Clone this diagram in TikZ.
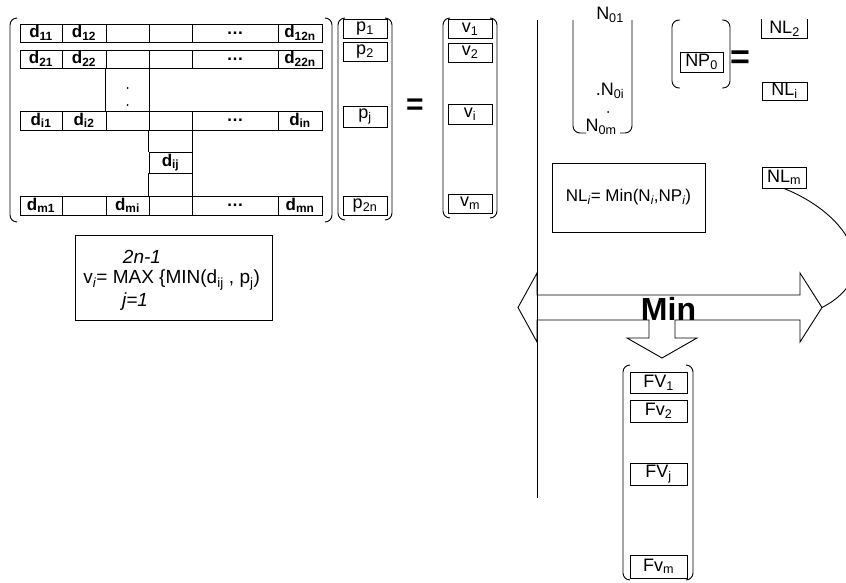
\documentclass[tikz,border=0pt]{standalone}
\usepackage{fontspec}
\setmainfont{Liberation Sans}
\usetikzlibrary{positioning}
\newcommand{\tamcaja}{\fontsize{18}{20}\selectfont}
\newcommand{\tamform}{\fontsize{19}{21}\selectfont}

\begin{document}
\begin{tikzpicture}[x=1pt, y=-1pt, line width=0.9pt,
  every node/.style={inner sep=0pt, font=\tamcaja},
  cell/.style={draw, minimum height=18pt, font=\fontsize{17}{19}\selectfont\bfseries},
  vbox/.style={draw, minimum width=44pt, minimum height=19pt},
  fvbox/.style={draw, minimum width=57pt, minimum height=21pt},
  nlbox/.style={draw, minimum width=45pt, minimum height=19pt},
  paren/.style={rounded corners=7pt},
  igual/.style={font=\fontsize{30}{30}\selectfont\bfseries}
]
\useasboundingbox (0,0) rectangle (846,583);
\clip (0,0) rectangle (846,583);

% -------- Matriz D (izquierda) --------
\foreach \k/\xc/\w/\lbl in {1/41/42/{d\textsubscript{11}}, 2/84/44/{d\textsubscript{12}},
    3/127.5/43/{}, 4/170.5/43/{}, 5/235/86/{\dots}, 6/300/44/{d\textsubscript{12n}}}
  \node[cell, minimum width=\w] (a1\k) at (\xc,33) {\lbl};
\foreach \k/\xc/\w/\lbl in {1/41/42/{d\textsubscript{21}}, 2/84/44/{d\textsubscript{22}},
    3/127.5/43/{}, 4/170.5/43/{}, 5/235/86/{\dots}, 6/300/44/{d\textsubscript{22n}}}
  \node[cell, minimum width=\w] (a2\k) at (\xc,59) {\lbl};
\foreach \k/\xc/\w/\lbl in {1/41/42/{d\textsubscript{i1}}, 2/84/44/{d\textsubscript{i2}},
    3/127.5/43/{}, 4/170.5/43/{}, 5/235/86/{\dots}, 6/300/44/{d\textsubscript{in}}}
  \node[cell, minimum width=\w, minimum height=19pt] (ai\k) at (\xc,120.5) {\lbl};
\foreach \k/\xc/\w/\lbl in {1/41/42/{d\textsubscript{m1}}, 2/84/44/{}, 3/127.5/43/{d\textsubscript{mi}},
    4/170.5/43/{}, 5/235/86/{\dots}, 6/300/44/{d\textsubscript{mn}}}
  \node[cell, minimum width=\w, minimum height=19pt] (am\k) at (\xc,205.5) {\lbl};
\node[cell, minimum width=43pt, minimum height=21pt] (dij) at (170.5,162.5) {d\textsubscript{ij}};

% columnas entre filas
\draw (a23.south west) -- (ai3.north west);
\draw (a23.south east) -- (ai3.north east);
\draw (ai4.south west) -- (dij.north west);
\draw (ai4.south east) -- (dij.north east);
\draw (dij.south west) -- (am4.north west);
\draw (dij.south east) -- (am4.north east);
\fill (127.5,88) circle (1pt);
\fill (127.5,105) circle (1pt);

% parentesis de D
\draw[paren] (17,18) -- (10,18) -- (10,222) -- (17,222);
\draw[paren] (325,18) -- (332,18) -- (332,222) -- (325,222);

% -------- Vector p --------
\draw[paren] (345,18) -- (338,18) -- (338,220) -- (345,220);
\draw[paren] (385,18) -- (392,18) -- (392,220) -- (385,220);
\node[vbox] (p1) at (365,29) {p\textsubscript{1}};
\node[vbox] (p2) at (365,51.5) {p\textsubscript{2}};
\node[vbox, minimum height=21pt] (pj) at (365,116.5) {p\textsubscript{j}};
\node[vbox] (p2n) at (365,205.5) {p\textsubscript{2n}};

\node[igual] (eq1) at (415,107) {=};

% -------- Vector v --------
\draw[paren] (450,18) -- (443,18) -- (443,218) -- (450,218);
\draw[paren] (490,18) -- (497,18) -- (497,218) -- (490,218);
\node[vbox] (v1) at (470,29) {v\textsubscript{1}};
\node[vbox] (v2) at (470,52.5) {v\textsubscript{2}};
\node[vbox, minimum height=20pt] (vi) at (470,114) {v\textsubscript{i}};
\node[vbox] (vm) at (470,203.5) {v\textsubscript{m}};

% formula de v
\draw (75,235) rectangle (272,320);
\node[font=\tamform\itshape] (vsup) at (142,257) {2n-1};
\node[font=\tamform, anchor=west] (vform) at (83,280)
  {v\textsubscript{\itshape i}= MAX \{MIN(d\textsubscript{ij} , p\textsubscript{j})};
\node[font=\tamform\itshape] (vinf) at (135,302) {j=1};

% -------- Separador --------
\draw (537,20) -- (537,498);

% -------- Vector N0 --------
\draw[paren] (573,20) -- (573,133) -- (586,133);
\draw[paren] (632,20) -- (632,133) -- (620,133);
\node (n01) at (610,15) {N\textsubscript{01}};
\node (n0i) at (610,91) {.N\textsubscript{0i}};
\fill (608,112) circle (1pt);
\node (n0m) at (601,127) {N\textsubscript{0m}};

% -------- NP0 y NL --------
\draw[paren] (680,20) -- (672,20) -- (672,88) -- (680,88);
\draw[paren] (722,20) -- (730,20) -- (730,88) -- (722,88);
\node[draw, minimum width=43pt, minimum height=20pt] (np0) at (701.5,62) {NP\textsubscript{0}};
\node[igual, font=\fontsize{34}{34}\selectfont\bfseries] (eq2) at (740,60) {=};

\node[minimum width=45pt, minimum height=19pt] (nl2) at (784.5,29) {NL\textsubscript{2}};
\draw (nl2.north west) -- (nl2.south west) -- (nl2.south east) -- (nl2.north east);
\node[nlbox, minimum height=18pt] (nli) at (784.5,91) {NL\textsubscript{i}};
\node[nlbox, minimum width=44pt, minimum height=21pt] (nlm) at (784,177.5) {NL\textsubscript{m}};

\node[draw, minimum width=153pt, minimum height=69pt, font=\fontsize{17}{19}\selectfont] (nlf) at (628.5,197.5)
  {NL\textsubscript{\itshape i}= Min(N\textsubscript{\itshape i},NP\textsubscript{\itshape i})};

% -------- Flecha doble y Min --------
\coordinate (ltip) at (518,307.5);
\coordinate (rtip) at (822,307.5);
\coordinate (dtip) at (662,358);
\draw (537,295) -- (800,295) -- (800,273) -- (rtip) -- (800,342) -- (800,320)
  -- (675,320) -- (675,338) -- (697,338) -- (dtip) -- (627,338) -- (649,338)
  -- (649,320) -- (537,320) -- (537,342) -- (ltip) -- (537,273) -- cycle;
\node[font=\fontsize{32}{34}\selectfont\bfseries, anchor=base] (min) at (668.5,320) {Min};

\draw (nlm.south) .. controls (850,215) and (885,275) .. (rtip);

% -------- Vector FV --------
\draw[paren] (630,365) -- (623,365) -- (623,580) -- (630,580);
\draw[paren] (686,365) -- (693,365) -- (693,580) -- (686,580);
\node[fvbox] (fv1) at (658.5,382.5) {FV\textsubscript{1}};
\node[fvbox, minimum height=22pt] (fv2) at (658.5,411) {Fv\textsubscript{2}};
\node[fvbox, minimum height=22pt] (fvj) at (658.5,474) {FV\textsubscript{j}};
\node[fvbox, minimum height=23pt] (fvm) at (658.5,566.5) {Fv\textsubscript{m}};

\end{tikzpicture}
\end{document}
